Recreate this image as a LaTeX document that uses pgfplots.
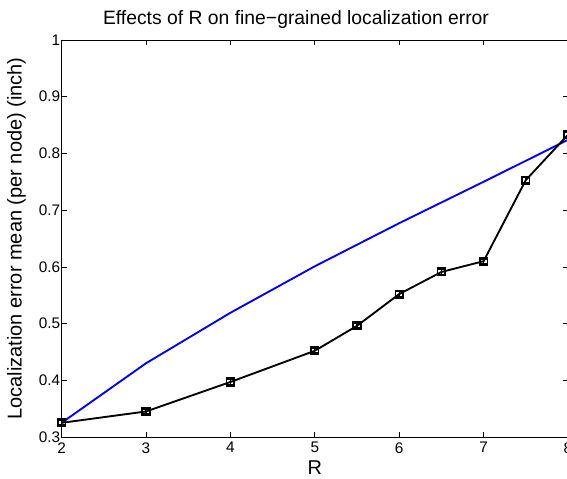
\documentclass[border=0pt]{standalone}
\usepackage{pgfplots}
\pgfplotsset{compat=1.18}
\usepackage{fontspec}
\setmainfont{Liberation Sans}

% mean localization error per node vs. R
\pgfplotstableread{
R    err    sd
2    0.325  0.004
3    0.345  0.004
4    0.397  0.004
5    0.452  0.004
5.5  0.496  0.004
6    0.552  0.005
6.5  0.591  0.004
7    0.610  0.004
7.5  0.753  0.005
8    0.833  0.005
}\finegrained

\pgfplotstableread{
R    bound
2    0.325
3    0.430
4    0.519
5    0.601
6    0.677
7    0.750
8    0.824
}\reference

\begin{document}
\begin{tikzpicture}[x=0.75pt,y=0.75pt]
\begin{axis}[
  at={(0,0)}, anchor=south west,
  scale only axis,
  width=379.8pt, height=297.75pt,
  xmin=2, xmax=8, ymin=0.3, ymax=1,
  xtick={2,3,4,5,6,7,8},
  ytick={0.3,0.4,0.5,0.6,0.7,0.8,0.9,1},
  tick align=inside,
  major tick length=4pt,
  axis line style={line width=0.6pt},
  tick style={line width=0.5pt,black},
  /pgf/number format/assume math mode=true,
  ticklabel style={font=\fontsize{11.5}{13}\selectfont},
  xticklabel style={yshift=-0.5pt},
  yticklabel style={xshift=2.5pt},
  xlabel={R},
  ylabel={Localization error mean (per node) (inch)},
  label style={font=\fontsize{15}{17}\selectfont},
  xlabel style={yshift=1.5pt},
  ylabel style={yshift=3pt},
  title={Effects of R on fine−grained localization error},
  title style={font=\fontsize{14.5}{16}\selectfont, xshift=-14.1pt, yshift=-1pt},
  clip=false,
]
\addplot[blue, line width=1.4pt] table[x=R, y=bound] {\reference};
\addplot[black, line width=1.4pt, mark=square, mark size=2.8pt,
  mark options={line width=1.2pt, solid},
  error bars/.cd, y dir=both, y explicit,
  error bar style={line width=1pt}, error mark options={rotate=90, mark size=2.8pt, line width=1pt}]
  table[x=R, y=err, y error=sd] {\finegrained};
\end{axis}
\pgfresetboundingbox
\useasboundingbox (-61.6,-41) rectangle (505.4,437);
\end{tikzpicture}
\end{document}
